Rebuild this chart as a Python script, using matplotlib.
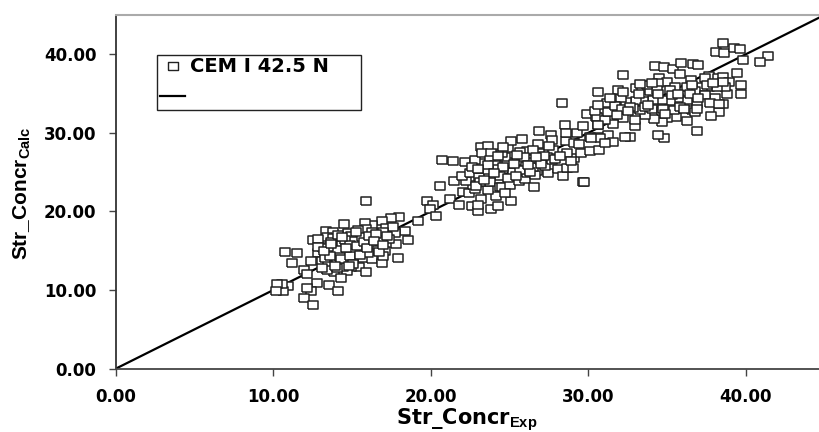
import matplotlib
matplotlib.use("Agg")
import matplotlib.pyplot as plt
from matplotlib.lines import Line2D

exp_low = [15.89, 17.97, 17.48, 16.93, 16.3, 15.83, 14.47, 19.17, 18.37, 17.73, 17.14, 17.63, 18.58, 17.8, 17.35,
           16.63, 15.87, 15.41, 14.77, 14.94, 15.15, 15.93, 16.46, 16.89, 13.35, 13.82, 13.4, 13.78, 13.65, 12.55,
           12.87, 14.39, 14.67, 13.78, 12.87, 10.77, 11.53, 11.22, 12.38, 11.98, 12.13, 13.08, 13.5, 14.07, 14.67,
           15.58, 16.21, 17.1, 16.68, 15.68, 16.25, 16.93, 17.95, 16.99, 15.19, 15.09, 15.47, 15.87, 14.94, 14.67,
           13.86, 14.31, 13.4, 12.76, 13.56, 14.09, 12.38, 12.17, 11.96, 12.55, 10.96, 10.64, 10.58, 10.22, 10.18,
           14.14, 14.56, 15.62, 14.88, 14.03, 14.24, 13.5, 13.18, 12.87, 13.29, 16.25, 16.99, 16.04, 14.45, 14.03,
           13.08, 15.3, 15.75, 16.1, 16.55, 14.3, 14.9, 13.95, 13.6, 15.05, 15.5, 14.6, 16.7, 17.25, 13.25, 14.8,
           15.95, 15.25, 14.35, 13.7, 16.4, 17.0]
calc_low = [21.38, 19.35, 19.2, 18.84, 18.33, 18.5, 18.41, 18.75, 17.57, 17.31, 17.95, 18.07, 16.42, 15.83, 16.46,
            17.0, 17.74, 17.65, 17.23, 16.93, 16.25, 16.59, 15.95, 16.59, 17.57, 17.35, 16.8, 16.68, 16.08, 16.38,
            16.46, 15.74, 14.68, 14.68, 14.68, 14.9, 14.77, 13.5, 13.75, 12.56, 12.01, 13.71, 13.2, 13.5, 13.62,
            15.1, 15.32, 15.02, 15.1, 14.09, 13.92, 13.5, 14.05, 14.34, 15.1, 13.75, 12.9, 12.3, 12.99, 12.43,
            12.3, 11.59, 12.56, 10.95, 10.7, 9.85, 9.93, 10.3, 8.96, 8.15, 10.57, 9.89, 10.78, 10.78, 9.89,
            17.0, 16.38, 16.8, 15.74, 15.1, 14.26, 15.53, 15.32, 15.53, 14.05, 17.44, 17.44, 14.68, 12.99, 12.77,
            12.77, 15.6, 16.1, 16.9, 17.2, 13.9, 14.3, 13.1, 14.4, 13.3, 14.5, 15.3, 14.9, 16.9, 15.0, 13.05,
            15.4, 17.4, 16.7, 15.9, 16.3, 15.7]

exp_mid = [19.79, 20.17, 19.95, 20.31, 20.59, 20.7, 21.44, 21.22, 21.77, 21.5, 22.18, 22.07, 22.43, 22.6, 23.02,
           23.19, 23.02, 23.81, 24.25, 24.15, 23.66, 22.81, 22.66, 22.24, 21.97, 22.47, 23.07, 23.19, 23.13, 22.81,
           22.6, 23.17, 23.62, 23.24, 23.81, 23.76, 24.08, 24.15, 23.66, 24.4, 23.76, 24.4, 24.55, 25.03, 25.63,
           25.99, 26.09, 26.56, 25.1, 26.73, 26.62, 27.43, 28.1, 28.42, 28.63, 29.06, 29.69, 29.1, 29.54, 30.11,
           30.71, 28.63, 27.74, 27.36, 27.26, 26.9, 26.35, 25.77, 26.13, 25.67, 24.87, 24.72, 24.5, 24.93, 25.08,
           25.82, 24.61, 26.88, 27.64, 27.72, 26.83, 26.52, 28.57, 28.53, 29.1, 28.59, 29.27, 29.69, 30.11, 30.64,
           29.9, 30.49, 30.6, 25.2, 26.03, 25.67, 26.52, 23.13, 23.66, 27.68, 26.94, 28.35, 29.73, 24.9, 24.6,
           25.4, 25.9, 26.3, 27.0, 27.9, 28.2, 22.9, 23.4, 24.0, 24.7, 25.3, 26.2, 27.2, 28.9, 24.3, 23.0, 25.5,
           26.7, 27.5, 29.4]
calc_mid = [21.29, 20.82, 20.3, 19.47, 23.24, 26.5, 26.46, 21.54, 20.87, 23.88, 26.34, 22.52, 22.31, 20.7, 20.06,
            21.63, 20.82, 20.27, 20.7, 21.97, 22.73, 22.82, 23.41, 23.88, 24.56, 24.85, 24.43, 25.36, 26.21, 26.55,
            25.62, 28.16, 28.37, 27.48, 27.48, 26.55, 25.91, 25.36, 25.28, 24.51, 23.79, 23.16, 23.07, 23.41, 23.88,
            24.17, 24.94, 23.16, 21.29, 25.19, 24.64, 24.94, 25.36, 24.56, 25.49, 25.57, 23.79, 26.85, 27.4, 27.74,
            27.82, 27.48, 27.82, 26.97, 25.79, 27.48, 26.34, 26.46, 27.74, 27.61, 26.34, 26.97, 27.4, 28.03, 29.01,
            29.2, 28.16, 30.2, 29.73, 29.09, 28.58, 27.82, 29.01, 31.0, 28.67, 29.94, 29.94, 30.92, 29.43, 29.43,
            32.4, 31.98, 31.0, 25.06, 25.79, 25.28, 25.7, 23.79, 25.91, 26.55, 26.55, 33.84, 23.75, 24.2, 25.7,
            24.5, 26.9, 25.0, 26.0, 26.7, 27.1, 23.3, 24.0, 24.9, 22.4, 26.1, 25.9, 27.0, 26.4, 27.0, 25.4, 27.2,
            26.9, 28.3, 28.6]

exp_high = [38.58, 38.11, 38.62, 39.25, 39.63, 39.8, 41.39, 40.9, 39.42, 39.68, 39.68, 38.79, 38.58, 38.32, 37.77,
            36.88, 34.81, 34.45, 32.65, 32.33, 32.97, 32.23, 30.6, 34.24, 34.83, 35.36, 35.87, 36.67, 36.95, 35.82,
            34.51, 35.02, 36.5, 37.69, 38.26, 38.53, 38.96, 38.68, 37.69, 37.2, 36.78, 38.05, 37.43, 37.73, 36.92,
            36.56, 36.25, 36.78, 35.55, 35.02, 34.66, 34.17, 33.6, 32.23, 31.59, 31.27, 30.74, 31.55, 31.06, 33.28,
            34.03, 34.66, 35.44, 36.25, 35.72, 35.19, 34.66, 34.13, 33.5, 33.03, 32.4, 32.06, 31.91, 33.01, 33.39,
            33.92, 34.41, 34.34, 35.51, 35.19, 36.25, 31.21, 30.58, 31.06, 30.64, 30.43, 31.27, 31.7, 32.12, 30.17,
            33.71, 33.28, 34.03, 35.82, 32.86, 38.15, 36.56, 37.41, 38.58, 37.52, 36.46, 34.77, 33.6, 32.65, 31.8,
            32.2, 30.6, 33.8, 35.3, 36.1, 34.9, 37.0, 33.2, 32.5, 35.7, 34.4, 36.9, 38.3, 33.0, 31.4, 37.9]
calc_high = [41.4, 40.25, 40.13, 40.85, 40.72, 39.32, 39.79, 38.98, 37.67, 36.14, 34.99, 34.99, 33.72, 32.66, 32.11,
             30.2, 29.36, 29.78, 29.44, 29.44, 30.92, 37.33, 35.17, 38.47, 38.39, 38.18, 38.86, 38.77, 38.64, 37.46,
             36.95, 36.52, 36.73, 37.24, 36.95, 37.16, 36.52, 35.89, 35.89, 35.89, 35.38, 34.4, 34.83, 33.77, 33.68,
             32.92, 31.52, 32.62, 31.99, 31.86, 31.35, 31.77, 32.28, 31.86, 31.09, 29.74, 29.4, 28.89, 28.68, 32.92,
             33.05, 32.79, 32.92, 34.19, 34.49, 34.06, 34.19, 34.19, 34.11, 34.11, 33.89, 34.4, 35.46, 35.67, 35.67,
             35.34, 36.4, 35.46, 35.89, 35.46, 35.89, 33.77, 32.07, 31.65, 31.01, 32.79, 32.62, 33.47, 33.05, 29.4,
             36.1, 36.18, 36.31, 33.34, 33.13, 35.89, 36.1, 36.95, 36.52, 36.1, 34.91, 33.05, 33.34, 33.34, 32.28,
             35.2, 33.6, 33.6, 34.8, 33.1, 32.4, 34.4, 34.9, 32.8, 35.0, 35.0, 33.0, 33.7, 31.7, 34.4, 36.3]

exp_vals = exp_low + exp_mid + exp_high
calc_vals = calc_low + calc_mid + calc_high

fit_x = [0, 50]
fit_y = [0, 50]

xticks = [0, 10, 20, 30, 40]
yticks = [0, 10, 20, 30, 40]
tick_labels = ["0.00", "10.00", "20.00", "30.00", "40.00"]

plt.rcParams['mathtext.fontset'] = 'custom'
plt.rcParams['mathtext.bf'] = 'Liberation Sans:bold'

W, H = 820, 432
fig = plt.figure(figsize=(W / 100, H / 100), dpi=100)
ax = fig.add_axes([115.7 / W, 1 - 368.7 / H, (W - 115.7) / W, (368.7 - 15) / H])

# wide box, the original picture is stretched sideways
box = [(-1.25, -1), (1.25, -1), (1.25, 1), (-1.25, 1), (-1.25, -1)]

ax.plot(fit_x, fit_y, color='black', linewidth=1.6, zorder=2)
ax.scatter(exp_vals, calc_vals, marker=box, s=54, facecolor='white', edgecolor='#222222', linewidth=1.1, zorder=3)

ax.set_xlim(0, (W - 115.7) / 15.75)
ax.set_ylim(0, 45)
ax.set_xticks(xticks)
ax.set_xticklabels(tick_labels)
ax.set_yticks(yticks)
ax.set_yticklabels(tick_labels)
ax.tick_params(axis='x', length=5, width=1, color='#444444', labelsize=12, pad=9)
ax.tick_params(axis='y', length=5, width=1, color='#444444', labelsize=12, pad=9)
for lab in ax.get_xticklabels() + ax.get_yticklabels():
    lab.set_fontweight('bold')

ax.spines['right'].set_visible(False)
ax.spines['left'].set_color('#333333')
ax.spines['left'].set_linewidth(1.3)
ax.spines['bottom'].set_color('#444444')
ax.spines['bottom'].set_linewidth(1.3)
ax.spines['top'].set_color('#aaaaaa')
ax.spines['top'].set_linewidth(1.5)

fig.text(396 / W, 1 - 420 / H, r"Str_Concr$_{\mathbf{Exp}}$", fontsize=15, fontweight='bold', ha='left', va='center')
fig.text(22 / W, 1 - 193 / H, r"Str_Concr$_{\mathbf{Calc}}$", fontsize=15, fontweight='bold', rotation=90,
         ha='center', va='center', family='Liberation Sans')

handles = [Line2D([], [], marker=box, linestyle='none', markersize=6.5, markerfacecolor='white',
                  markeredgecolor='#222222', markeredgewidth=1),
           Line2D([], [], color='black', linewidth=1.6)]
leg = ax.legend(handles, ["CEM I 42.5 N", " "], loc='lower left',
                bbox_to_anchor=(157 / W, 1 - 110 / H, 204 / W, 53 / H), bbox_transform=fig.transFigure,
                mode='expand', borderaxespad=0, fancybox=False, framealpha=1, edgecolor='#222222',
                prop={'size': 14, 'weight': 'bold'}, handlelength=1.3, handletextpad=0.25, labelspacing=0.6,
                borderpad=0.15)
leg.get_frame().set_linewidth(1)

fig.savefig("out.png", dpi=100)
